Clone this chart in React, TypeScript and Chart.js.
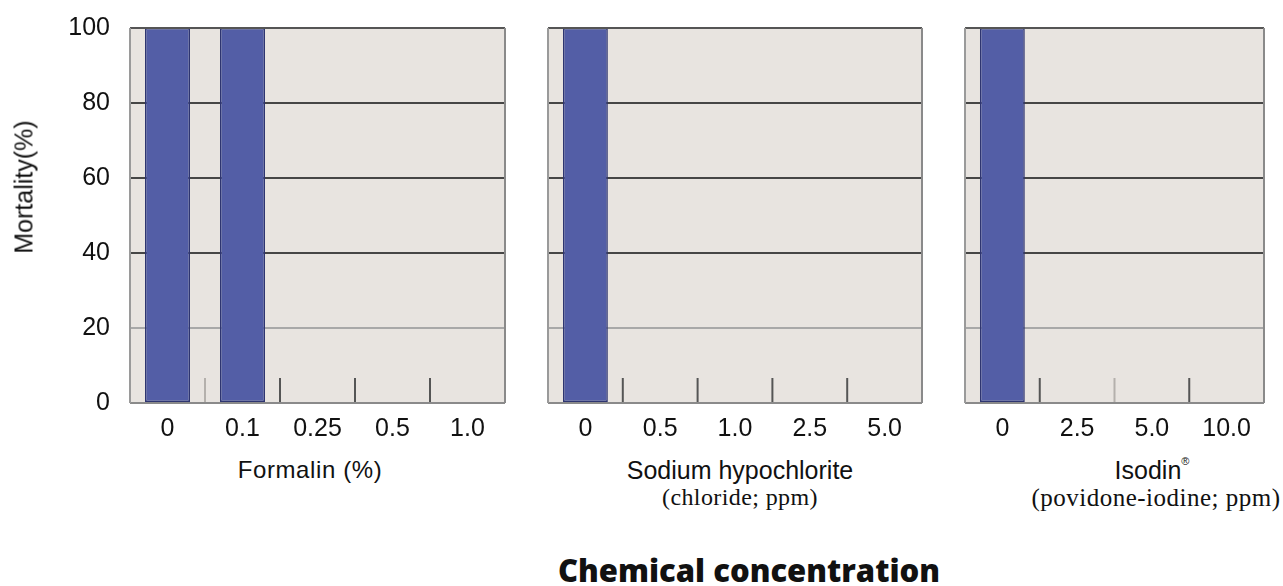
import React, { useEffect, useRef } from "react";
import { Chart, registerables } from "chart.js";

Chart.register(...registerables);

// ---- data ----
const formalinLabels = ["0", "0.1", "0.25", "0.5", "1.0"];
const formalinMortality = [100, 100, 0, 0, 0];
const hypochloriteLabels = ["0", "0.5", "1.0", "2.5", "5.0"];
const hypochloriteMortality = [100, 0, 0, 0, 0];
const isodinLabels = ["0", "2.5", "5.0", "10.0"];
const isodinMortality = [100, 0, 0, 0];
const mortalityMin = 0;
const mortalityMax = 100;
const mortalityStep = 20;

const PLOT_BG = "#E8E4E0";
const BAR_FILL = "#535EA6";
const BAR_EDGE = "#2E3570";
const SANS = "'Liberation Sans', Arial, Helvetica, sans-serif";
const SERIF = "'Liberation Serif', 'Times New Roman', serif";

const decorPlugin = {
  id: "panelDecor",
  beforeDraw(chart: any) {
    const { ctx, chartArea: a } = chart;
    ctx.save();
    ctx.fillStyle = PLOT_BG;
    ctx.fillRect(a.left, a.top, a.right - a.left, a.bottom - a.top);
    ctx.restore();
  },
  afterDatasetsDraw(chart: any, _args: any, opts: any) {
    const { ctx, chartArea: a } = chart;
    const xs = chart.scales.x;
    const colors: string[] = opts.tickColors || [];
    ctx.save();
    ctx.lineWidth = 2;
    const n = xs.ticks.length;
    for (let i = 1; i < n; i++) {
      const px = (xs.getPixelForTick(i - 1) + xs.getPixelForTick(i)) / 2;
      ctx.strokeStyle = colors[i - 1] || "#555555";
      ctx.beginPath();
      ctx.moveTo(px, a.bottom);
      ctx.lineTo(px, a.bottom - 25);
      ctx.stroke();
    }
    const line = (x1: number, y1: number, x2: number, y2: number, c: string) => {
      ctx.strokeStyle = c;
      ctx.beginPath();
      ctx.moveTo(x1, y1);
      ctx.lineTo(x2, y2);
      ctx.stroke();
    };
    line(a.left, a.top, a.right, a.top, "#555555");
    line(a.right, a.top, a.right, a.bottom, "#8a8a8a");
    line(a.left, a.bottom, a.right, a.bottom, "#8a8a8a");
    line(a.left, a.top, a.left, a.bottom, "#9a9a9a");
    ctx.restore();
  },
};

type PanelProps = {
  labels: string[];
  values: number[];
  left: number;
  width: number;
  padLeft: number;
  showY: boolean;
  tickColors: string[];
};

function Panel({ labels, values, left, width, padLeft, showY, tickColors }: PanelProps) {
  const ref = useRef<HTMLCanvasElement | null>(null);
  useEffect(() => {
    if (!ref.current) return;
    const chart = new Chart(ref.current, {
      type: "bar",
      data: {
        labels,
        datasets: [
          {
            data: values,
            backgroundColor: BAR_FILL,
            borderColor: BAR_EDGE,
            borderWidth: (c: any) => (c.raw > 0 ? 1.5 : 0),
            borderSkipped: false,
            barPercentage: 1,
            categoryPercentage: 0.6,
          },
        ],
      },
      options: {
        responsive: false,
        animation: false,
        events: [],
        layout: { padding: { top: 28, right: 10, bottom: 0, left: padLeft } },
        plugins: {
          legend: { display: false },
          tooltip: { enabled: false },
          panelDecor: { tickColors },
        } as any,
        scales: {
          x: {
            offset: true,
            grid: { display: false, drawTicks: false },
            border: { display: false },
            ticks: {
              color: "#111111",
              font: { family: SANS, size: 25 },
              padding: 11,
              maxRotation: 0,
            },
            afterFit: (s: any) => {
              s.height = 47;
              s.paddingLeft = 0;
              s.paddingRight = 0;
            },
          },
          y: {
            min: mortalityMin,
            max: mortalityMax,
            border: { display: false },
            grid: {
              drawTicks: false,
              lineWidth: 2,
              color: (c: any) => {
                const v = c.tick ? c.tick.value : null;
                if (v === mortalityMin || v === mortalityMax) return "rgba(0,0,0,0)";
                if (v === 20) return "#a8a8a8";
                return "#464646";
              },
            },
            ticks: {
              display: showY,
              stepSize: mortalityStep,
              color: "#111111",
              font: { family: SANS, size: 25 },
              padding: 20,
            },
            afterFit: (s: any) => {
              s.width = showY ? 130 : 0;
              s.paddingTop = 0;
              s.paddingBottom = 0;
            },
          },
        },
      },
      plugins: [decorPlugin],
    });
    return () => chart.destroy();
  }, []);
  return (
    <canvas
      ref={ref}
      width={width}
      height={450}
      style={{ position: "absolute", left, top: 0, width, height: 450 }}
    />
  );
}

const textStyle = (x: number, y: number, font: string, size: number, extra: any = {}) => ({
  position: "absolute" as const,
  left: x,
  top: y,
  transform: "translate(-50%, -50%)",
  whiteSpace: "nowrap" as const,
  fontFamily: font,
  fontSize: size,
  color: "#111111",
  lineHeight: 1,
  ...extra,
});

export default function App() {
  return (
    <div
      style={{
        position: "absolute",
        left: 0,
        top: 0,
        width: 1283,
        height: 586,
        background: "#ffffff",
        overflow: "hidden",
      }}
    >
      <Panel
        labels={formalinLabels}
        values={formalinMortality}
        left={0}
        width={515}
        padLeft={0}
        showY={true}
        tickColors={["#b4b0ac", "#555555", "#555555", "#555555"]}
      />
      <Panel
        labels={hypochloriteLabels}
        values={hypochloriteMortality}
        left={530}
        width={402}
        padLeft={18}
        showY={false}
        tickColors={["#555555", "#555555", "#555555", "#555555"]}
      />
      <Panel
        labels={isodinLabels}
        values={isodinMortality}
        left={947}
        width={327}
        padLeft={18}
        showY={false}
        tickColors={["#555555", "#b4b0ac", "#555555"]}
      />
      <div style={textStyle(24, 187, SANS, 25, { transform: "translate(-50%, -50%) rotate(-90deg)" })}>
        Mortality(%)
      </div>
      <div style={textStyle(310, 470, SANS, 24, { letterSpacing: 0.6 })}>Formalin (%)</div>
      <div style={textStyle(740, 470, SANS, 25)}>Sodium hypochlorite</div>
      <div style={textStyle(740, 497, SERIF, 24, { letterSpacing: 0.4 })}>(chloride; ppm)</div>
      <div style={textStyle(1152, 470, SANS, 25)}>
        Isodin
        <sup style={{ fontSize: 11, verticalAlign: "top", position: "relative", top: -2 }}>®</sup>
      </div>
      <div style={textStyle(1156, 497, SERIF, 25, { letterSpacing: 0.5 })}>(povidone-iodine; ppm)</div>
      <div
        style={textStyle(749, 570, "'Open Sans', sans-serif", 31, {
          fontWeight: 800,
          color: "#111",
        })}
      >
        Chemical concentration
      </div>
    </div>
  );
}
